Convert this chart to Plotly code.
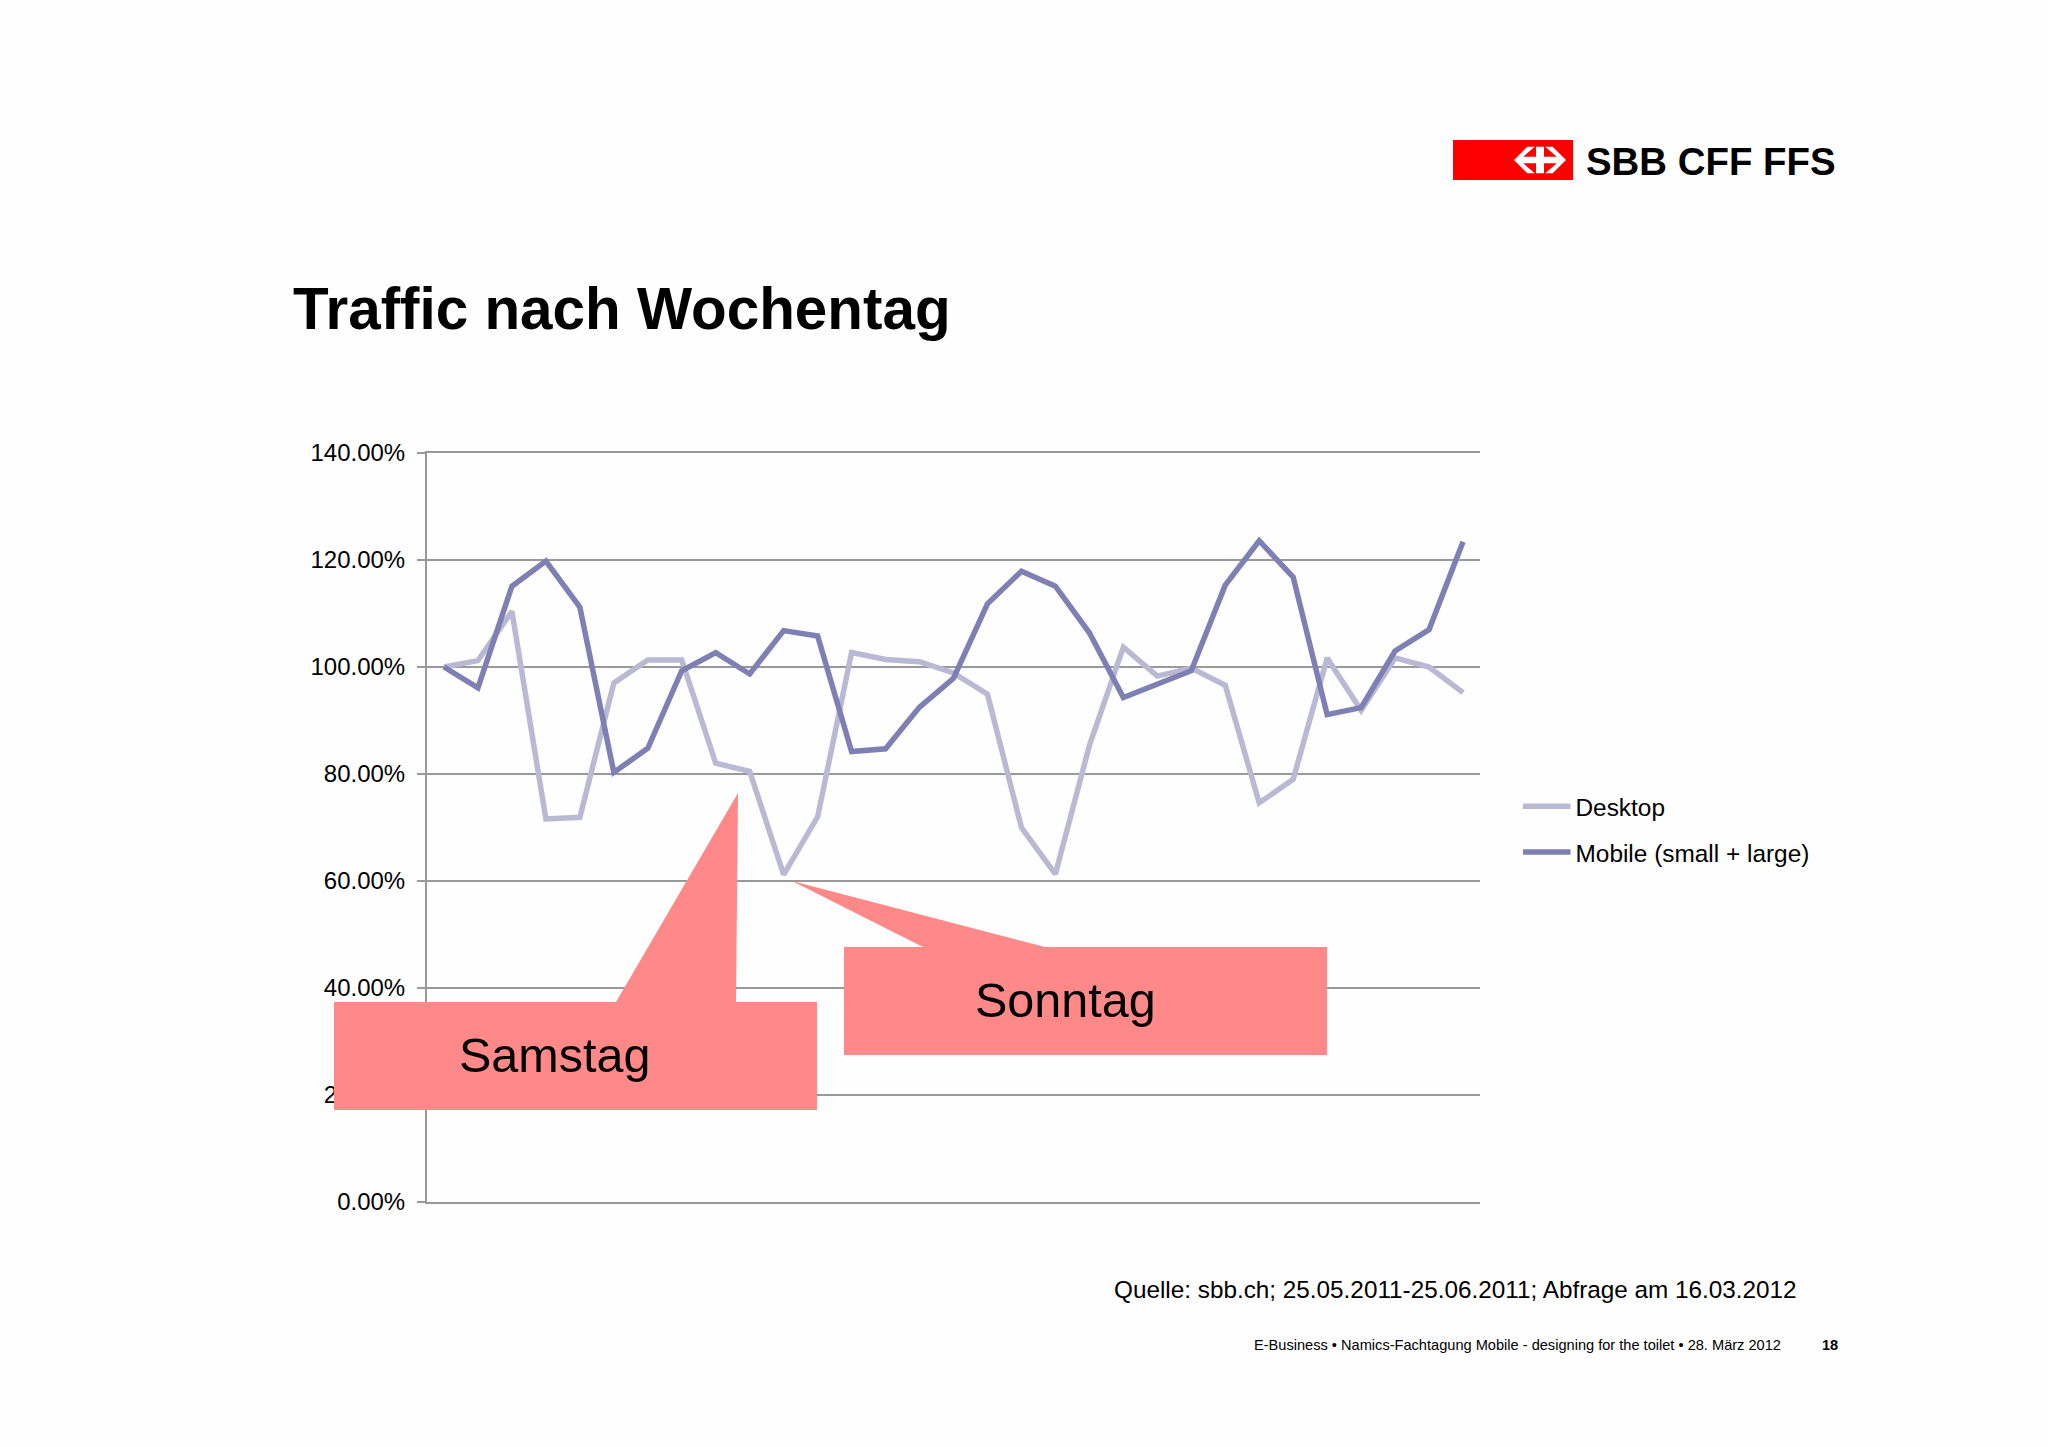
import plotly.graph_objects as go

# --- data ---
days = list(range(1, 32))
desktop = [100, 101.2, 110.4, 71.6, 71.9, 97, 101.3, 101.3, 82, 80.5, 61.2, 72, 102.7, 101.4, 101, 98.9,
           94.9, 70, 61.3, 85.3, 103.7, 98.3, 99.8, 96.6, 74.6, 79, 101.7, 91.9, 101.7, 100, 95.2]
mobile = [100, 96.1, 115.1, 119.8, 111.2, 80.3, 84.8, 99.3, 102.7, 98.7, 106.8, 105.8, 84.2, 84.7, 92.5, 97.9,
          111.8, 117.9, 115.1, 106.4, 94.3, 96.8, 99.3, 115.3, 123.6, 116.8, 91.1, 92.4, 103, 107, 123.4]
tick_vals = [0, 20, 40, 60, 80, 100, 120, 140]
tick_text = ["0.00%", "20.00%", "40.00%", "60.00%", "80.00%", "100.00%", "120.00%", "140.00%"]

W, H = 2048, 1447
L, R, T, B = 427, 1480, 453, 1202
FONT = "Liberation Sans"
GREY = "#999999"
SALMON = "#FF8888"

def X(p):
    return (p - L) / (R - L)

def Y(p):
    return (B - p) / (B - T)

def poly(points, color):
    d = "M " + " L ".join(f"{X(a):.5f},{Y(b):.5f}" for a, b in points) + " Z"
    return dict(type="path", xref="paper", yref="paper", path=d, fillcolor=color,
                line=dict(width=0), layer="above")

def rect(x0, y0, x1, y1, color):
    return dict(type="rect", xref="paper", yref="paper", x0=X(x0), x1=X(x1), y0=Y(y0), y1=Y(y1),
                fillcolor=color, line=dict(width=0), layer="above")

def text(s, x, y, size, bold=False, anchor="left"):
    return dict(text=f"<b>{s}</b>" if bold else s, xref="paper", yref="paper", x=X(x), y=Y(y),
                xanchor=anchor, yanchor="middle", showarrow=False,
                font=dict(family=FONT, size=size, color="#000000"))

fig = go.Figure()
fig.add_trace(go.Scatter(x=days, y=desktop, mode="lines", name="Desktop", legendgroup="a",
                         line=dict(color="#B9B9D3", width=5.5, shape="linear")))
fig.add_trace(go.Scatter(x=days, y=mobile, mode="lines", name="Mobile (small + large)", legendgroup="b",
                         line=dict(color="#7E80B4", width=5.5, shape="linear")))

def lg(x):
    return [(1440 + a / 3, 120 + b / 3) for a, b in x]

shapes = [
    poly([(738, 793), (736, 1002), (616, 1002)], SALMON),
    rect(334, 1002, 817, 1110, SALMON),
    poly([(792, 881), (1045, 947), (923, 947)], SALMON),
    rect(844, 947, 1327, 1055, SALMON),
    rect(1453, 140, 1573, 180, "#FF0000"),
    poly(lg([(222, 120), (262, 80), (284, 80), (250, 110), (288, 110), (288, 80), (312, 80), (312, 110),
             (350, 110), (316, 80), (338, 80), (378, 120), (338, 160), (316, 160), (350, 130), (312, 130),
             (312, 160), (288, 160), (288, 130), (250, 130), (284, 160), (262, 160)]), "#FFFFFF"),
]

annotations = [
    text("Traffic nach Wochentag", 291, 309, 58.4, bold=True),
    text("SBB CFF FFS", 1583.5, 161, 38.4, bold=True),
    text("Samstag", 457, 1055, 48.5),
    text("Sonntag", 973, 1000, 48.5),
    text("Quelle: sbb.ch; 25.05.2011-25.06.2011; Abfrage am 16.03.2012", 1112, 1289, 24.3),
    text("E-Business • Namics-Fachtagung Mobile - designing for the toilet • 28. März 2012", 1252, 1345, 14.6),
    text("18", 1820, 1345, 14.6, bold=True),
]

fig.update_layout(
    width=W, height=H,
    margin=dict(l=L, r=W - R, t=T, b=H - B, pad=0),
    paper_bgcolor="#FEFEFE", plot_bgcolor="#FEFEFE",
    font=dict(family=FONT, size=24, color="#000000"),
    shapes=shapes, annotations=annotations,
    legend=dict(x=X(1518), y=Y(784), xanchor="left", yanchor="top", bgcolor="rgba(0,0,0,0)",
                itemwidth=47.5, tracegroupgap=11, traceorder="grouped", font=dict(size=24.4)),
    xaxis=dict(range=[0.5, 31.5], showticklabels=False, showgrid=False, ticks="", zeroline=False,
               showline=True, mirror=True, linecolor=GREY, linewidth=2),
    yaxis=dict(range=[0, 140], tickvals=tick_vals, ticktext=tick_text, ticks="outside", ticklen=8,
               tickcolor=GREY, tickwidth=2, showgrid=True, gridcolor=GREY, gridwidth=2, zeroline=False,
               showline=True, linecolor=GREY, linewidth=2, ticklabelstandoff=7,
               tickfont=dict(family=FONT, size=24, color="#000000")),
)
fig.write_html("out.html", post_script="document.body.style.margin='0';", config=dict(displayModeBar=False))
